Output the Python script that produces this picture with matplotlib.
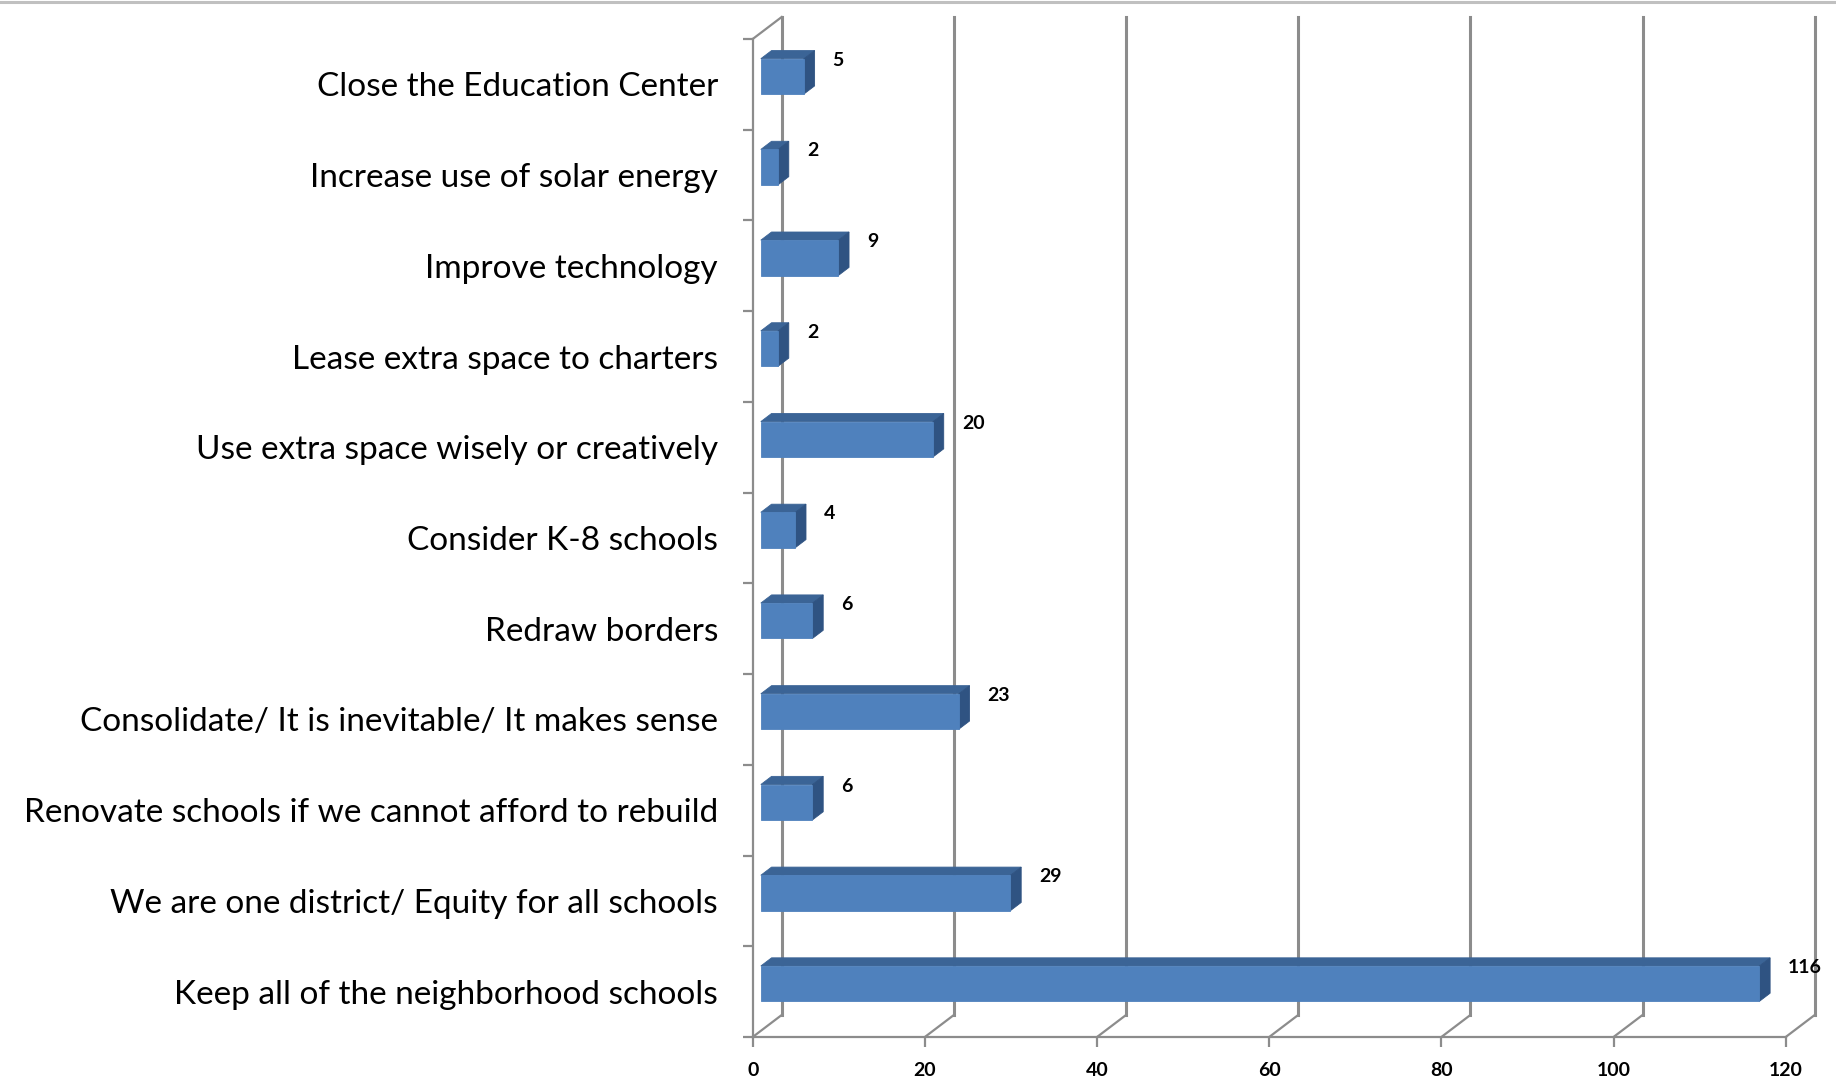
import matplotlib

matplotlib.use("Agg")
import matplotlib.pyplot as plt
from matplotlib.lines import Line2D
from matplotlib.patches import Polygon

categories = [
    "Close the Education Center",
    "Increase use of solar energy",
    "Improve technology",
    "Lease extra space to charters",
    "Use extra space wisely or creatively",
    "Consider K-8 schools",
    "Redraw borders",
    "Consolidate/ It is inevitable/ It makes sense",
    "Renovate schools if we cannot afford to rebuild",
    "We are one district/ Equity for all schools",
    "Keep all of the neighborhood schools",
]
values = [5, 2, 9, 2, 20, 4, 6, 23, 6, 29, 116]
x_ticks = [0, 20, 40, 60, 80, 100, 120]

# 3D look: how far the back wall sits behind the front axes (data units)
DX = 3.37
DY = 0.2426
FRONT_FACE = "#4f81bd"
TOP_FACE = "#3b6496"
SIDE_FACE = "#2f5382"
GRID = "#8c8c8c"


def shift(x, y, d):
    return x + d * DX, y - d * DY


fig = plt.figure(figsize=(18.36, 10.81), dpi=100)
ax = fig.add_axes([752.7 / 1836, 1 - 1037 / 1081, 1033 / 1836, 998 / 1081])
n = len(categories)
ax.set_xlim(0, 120)
ax.set_ylim(n, 0)

for s in ("top", "right"):
    ax.spines[s].set_visible(False)
for s in ("left", "bottom"):
    ax.spines[s].set_color(GRID)
    ax.spines[s].set_linewidth(1.6)

ax.set_xticks(x_ticks)
ax.set_xticklabels([str(t) for t in x_ticks], fontweight="bold", fontsize=14)
ax.tick_params(axis="x", length=7, width=1.6, color=GRID, pad=11)
ax.set_yticks([i + 0.5 for i in range(n)])
ax.set_yticklabels(categories, fontsize=24)
ax.tick_params(axis="y", which="major", length=0, pad=25)
ax.set_yticks(range(n + 1), minor=True)
ax.tick_params(axis="y", which="minor", length=7, width=1.6, color=GRID)
for lab in ax.get_xticklabels() + ax.get_yticklabels():
    lab.set_family("Lato")

# back wall gridlines and floor diagonals
for t in x_ticks:
    bx, by_top = shift(t, 0, 1)
    _, by_bot = shift(t, n, 1)
    ax.add_line(Line2D([bx, bx], [by_top, by_bot], color=GRID, lw=2.2, clip_on=False, zorder=1))
    ax.add_line(Line2D([t, bx], [n, by_bot], color=GRID, lw=1.6, clip_on=False, zorder=1))
tx, ty = shift(0, 0, 1)
ax.add_line(Line2D([0, tx], [0, ty], color=GRID, lw=1.6, clip_on=False, zorder=1))

# bars
d0, d1 = 0.28, 0.65
half = 0.195
for i, v in enumerate(values):
    c = i + 0.48
    top, bot = c - half, c + half
    front = [shift(0, top, d0), shift(v, top, d0), shift(v, bot, d0), shift(0, bot, d0)]
    upper = [shift(0, top, d0), shift(v, top, d0), shift(v, top, d1), shift(0, top, d1)]
    side = [shift(v, top, d0), shift(v, top, d1), shift(v, bot, d1), shift(v, bot, d0)]
    for pts, col in ((upper, TOP_FACE), (side, SIDE_FACE), (front, FRONT_FACE)):
        ax.add_patch(Polygon(pts, closed=True, facecolor=col, edgecolor=col,
                             lw=0.6, clip_on=False, zorder=3))
    lx, ly = shift(v, top, d1)
    ax.annotate(str(v), (lx, ly), xytext=(13, -7), textcoords="offset points",
                ha="left", va="center", fontsize=14, fontweight="bold",
                family="Lato", annotation_clip=False, zorder=4)

# thin frame line along the top edge
fig.add_artist(Line2D([0, 1], [1 - 1.5 / 1081] * 2, transform=fig.transFigure,
                      color="#c0c0c0", lw=2.2))

fig.savefig("out.png", dpi=100)
